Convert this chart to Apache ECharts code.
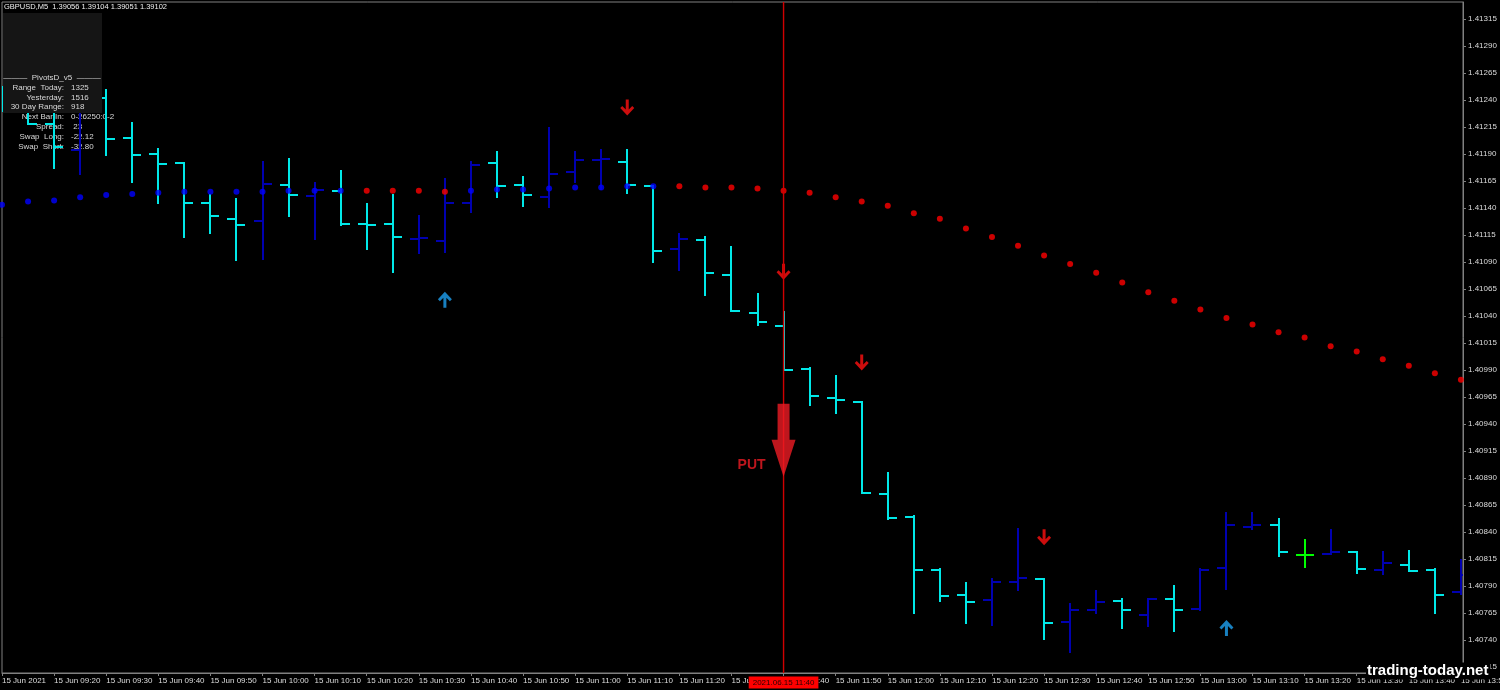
<!DOCTYPE html>
<html><head><meta charset="utf-8">
<script src="https://cdn.jsdelivr.net/npm/echarts@6/dist/echarts.min.js"></script>
<style>html,body{margin:0;padding:0;background:#000;} #c{width:1500px;height:690px;}</style>
</head><body><div id="c"></div>
<script>
// ---------- data ----------
const times = ['09:10','09:15','09:20','09:25','09:30','09:35','09:40','09:45','09:50','09:55',
  '10:00','10:05','10:10','10:15','10:20','10:25','10:30','10:35','10:40','10:45',
  '10:50','10:55','11:00','11:05','11:10','11:15','11:20','11:25','11:30','11:35',
  '11:40','11:45','11:50','11:55','12:00','12:05','12:10','12:15','12:20','12:25',
  '12:30','12:35','12:40','12:45','12:50','12:55','13:00','13:05','13:10','13:15',
  '13:20','13:25','13:30','13:35','13:40','13:45','13:50'];
const opens  = [1.41238,1.41233,1.41218,1.41194,1.41242,1.41205,1.41190,1.41182,1.41145,1.41130,
  1.41128,1.41161,1.41151,1.41156,1.41125,1.41125,1.41111,1.41109,1.41145,1.41182,
  1.41161,1.41150,1.41173,1.41184,1.41183,1.41160,1.41102,1.41110,1.41078,1.41043,
  1.41031,1.40991,1.40964,1.40960,1.40875,1.40854,1.40805,1.40782,1.40777,1.40794,
  1.40796,1.40757,1.40768,1.40776,1.40763,1.40778,1.40769,1.40807,1.40845,1.40846,
  1.40819,1.40820,1.40821,1.40805,1.40809,1.40805,1.40784];
const highs  = [1.41252,1.41235,1.41231,1.41247,1.41249,1.41219,1.41195,1.41182,1.41152,1.41148,
  1.41183,1.41185,1.41163,1.41174,1.41144,1.41152,1.41133,1.41167,1.41183,1.41192,
  1.41169,1.41214,1.41192,1.41194,1.41194,1.41160,1.41116,1.41113,1.41104,1.41060,
  1.41044,1.40992,1.40984,1.40960,1.40895,1.40855,1.40806,1.40793,1.40796,1.40843,
  1.40796,1.40773,1.40785,1.40778,1.40778,1.40790,1.40806,1.40858,1.40858,1.40852,
  1.40833,1.40842,1.40821,1.40821,1.40822,1.40806,1.40814];
const lows   = [1.41230,1.41218,1.41177,1.41171,1.41189,1.41164,1.41145,1.41113,1.41117,1.41092,
  1.41093,1.41133,1.41111,1.41124,1.41102,1.41081,1.41098,1.41099,1.41136,1.41150,
  1.41142,1.41141,1.41164,1.41158,1.41154,1.41090,1.41083,1.41059,1.41045,1.41032,
  1.40990,1.40958,1.40950,1.40876,1.40852,1.40765,1.40776,1.40756,1.40754,1.40786,
  1.40741,1.40729,1.40765,1.40751,1.40753,1.40748,1.40768,1.40787,1.40843,1.40818,
  1.40808,1.40820,1.40802,1.40801,1.40804,1.40765,1.40783];
const closes = [1.41233,1.41218,1.41196,1.41240,1.41204,1.41189,1.41181,1.41145,1.41133,1.41124,
  1.41162,1.41152,1.41157,1.41125,1.41124,1.41113,1.41112,1.41145,1.41180,1.41160,
  1.41152,1.41171,1.41184,1.41185,1.41161,1.41100,1.41111,1.41080,1.41045,1.41034,
  1.40990,1.40966,1.40962,1.40876,1.40853,1.40805,1.40781,1.40775,1.40794,1.40797,
  1.40756,1.40768,1.40775,1.40768,1.40778,1.40768,1.40805,1.40846,1.40846,1.40821,
  1.40819,1.40821,1.40806,1.40811,1.40804,1.40782,1.40800];
const maValues = [1.41143,1.41146,1.41147,1.41150,1.41152,1.41153,1.41154,1.41155,1.41155,1.41155,
  1.41155,1.41156,1.41156,1.41156,1.41156,1.41156,1.41156,1.41155,1.41156,1.41157,
  1.41157,1.41158,1.41159,1.41159,1.41160,1.41160,1.41160,1.41159,1.41159,1.41158,
  1.41156,1.41154,1.41150,1.41146,1.41142,1.41135,1.41130,1.41121,1.41113,1.41105,
  1.41096,1.41088,1.41080,1.41071,1.41062,1.41054,1.41046,1.41038,1.41032,1.41025,
  1.41020,1.41012,1.41007,1.41000,1.40994,1.40987,1.40981];
const maColorKeys = 'BBBBBBBBBBBBBBRRRRBBBBBBBBRRRRRRRRRRRRRRRRRRRRRRRRRRRRRRR'.split('');
const yTicks = [1.40715,1.40740,1.40765,1.40790,1.40815,1.40840,1.40865,1.40890,1.40915,1.40940,
  1.40965,1.40990,1.41015,1.41040,1.41065,1.41090,1.41115,1.41140,1.41165,1.41190,
  1.41215,1.41240,1.41265,1.41290,1.41315];
const xLabelIdx = [0,2,4,6,8,10,12,14,16,18,20,22,24,26,28,30,32,34,36,38,40,42,44,46,48,50,52,54,56];
const firstLabel = '15 Jun 2021';
const dayPrefix = '15 Jun ';
const yMin = 1.407094, yMax = 1.413307;
const downArrowIdx = [24,30,33,40];
const downArrowPrice = [1.41233,1.41081,1.40997,1.40835];
const upArrowIdx = [17,47];
const upArrowPrice = [1.41055,1.40751];
const signalIdx = 30, signalPrice = 1.40925, signalText = 'PUT';
const signalTimeLabel = '2021.06.15 11:40';
const titleText = 'GBPUSD,M5  1.39056 1.39104 1.39051 1.39102';
const panelTitle = '———  PivotsD_v5  ———';
const panelLabels = ['Range  Today:','Yesterday:','30 Day Range:','Next Bar In:','Spread:','Swap  Long:','Swap  Short:'];
const panelValues = ['1325','1516','918','0-26250:0-2',' 23','-22.12','-32.80'];
const watermark = 'trading-today.net';

// ---------- style ----------
const CYAN = '#00e8e8', NAVY = '#0000b0', LIME = '#00ff00';
const FONT = 'Liberation Sans';
const chart = echarts.init(document.getElementById('c'), null, {renderer:'canvas'});

const ohlc = times.map((t,i)=>[i, opens[i], highs[i], lows[i], closes[i]]);
const maData = maValues.map((v,i)=>({value:[i,v], itemStyle:{color: maColorKeys[i]==='B' ? '#0000ff' : '#ff0000'}}));
const downData = downArrowIdx.map((d,k)=>[d, downArrowPrice[k]]);
const upData = upArrowIdx.map((d,k)=>[d, upArrowPrice[k]]);

const DOWN_PATH = 'path://M5.5,0 L8.5,0 L8.5,10 L12,6.5 L14,8.5 L7,16 L0,8.5 L2,6.5 L5.5,10 Z';
const UP_PATH = 'path://M5.5,16 L8.5,16 L8.5,6 L12,9.5 L14,7.5 L7,0 L0,7.5 L2,9.5 L5.5,6 Z';
const BIG_DOWN = 'path://M6,0 L18,0 L18,36 L24,36 L12,73 L0,36 L6,36 Z';

const graphics = [
  {type:'text', left:4, top:3, z:20, style:{text:titleText, fill:'#f0f0f0', font:'7.5px '+FONT}},
  {type:'rect', shape:{x:3,y:13,width:99,height:100}, style:{fill:'#151515'}, z:15},
  {type:'text', x:52, y:78, z:20, style:{text:panelTitle, fill:'#d8d8d8', font:'8px '+FONT, align:'center', verticalAlign:'middle'}}
];
panelLabels.forEach((lab,k)=>{
  const yy = 87.5 + k*9.8;
  const zz = yy < 113 ? 20 : 1;
  graphics.push({type:'text', x:64, y:yy, z:zz, style:{text:lab, fill:'#d8d8d8', font:'8px '+FONT, align:'right', verticalAlign:'middle'}});
  graphics.push({type:'text', x:71, y:yy, z:zz, style:{text:panelValues[k], fill:'#d8d8d8', font:'8px '+FONT, align:'left', verticalAlign:'middle'}});
});
graphics.push({type:'text', x:1366, y:671, z:30, style:{text:watermark, fill:'#ffffff', font:'bold 15px '+FONT, align:'left', verticalAlign:'middle', backgroundColor:'#000', padding:[1,2,1,1]}});

chart.setOption({
  animation:false,
  backgroundColor:'#000',
  grid:{left:2, top:2, right:37, bottom:17, show:true, borderColor:'#808080', borderWidth:1, backgroundColor:'transparent', outerBoundsMode:'none'},
  xAxis:{type:'value', min:0, max:56.08,
    axisLine:{show:true, onZero:false, lineStyle:{color:'#808080', width:1}},
    axisTick:{show:true, inside:false, customValues:xLabelIdx, length:3, lineStyle:{color:'#808080'}},
    axisLabel:{customValues:xLabelIdx, formatter:v=> v===0 ? firstLabel : dayPrefix+times[v], color:'#dcdcdc', fontSize:8, fontFamily:FONT, align:'left', margin:4, hideOverlap:false},
    splitLine:{show:false}
  },
  yAxis:{type:'value', position:'right', min:yMin, max:yMax,
    axisLine:{show:true, onZero:false, lineStyle:{color:'#808080', width:1}},
    axisTick:{show:true, inside:false, customValues:yTicks, length:3, lineStyle:{color:'#808080'}},
    axisLabel:{customValues:yTicks, formatter:v=>v.toFixed(5), color:'#dcdcdc', fontSize:8, fontFamily:FONT, margin:5},
    splitLine:{show:false}
  },
  graphic: graphics,
  series:[
    {type:'custom', data:ohlc, encode:{x:0, y:[1,2,3,4]}, clip:true, z:3,
      renderItem:function(params, api){
        const i=api.value(0), o=api.value(1), h=api.value(2), l=api.value(3), c=api.value(4);
        const top=api.coord([i,h]), bot=api.coord([i,l]), po=api.coord([i,o]), pc=api.coord([i,c]);
        const col = c>o ? NAVY : (c<o ? CYAN : LIME);
        const x = Math.round(top[0]);
        const tick = 9;
        const st = {stroke:col, lineWidth:2, fill:null};
        return {type:'group', children:[
          {type:'line', shape:{x1:x, y1:Math.round(top[1])-1, x2:x, y2:Math.round(bot[1])+1}, style:st},
          {type:'line', shape:{x1:x-tick, y1:Math.round(po[1]), x2:x, y2:Math.round(po[1])}, style:st},
          {type:'line', shape:{x1:x, y1:Math.round(pc[1]), x2:x+tick, y2:Math.round(pc[1])}, style:st}
        ]};
      }
    },
    {type:'line', data:[[signalIdx, yMin],[signalIdx, yMax]], showSymbol:false, symbol:'none', silent:true, clip:false, z:7,
      lineStyle:{color:'#d00000', width:1.4, type:'solid'},
      markPoint:{silent:true, symbol:'rect', symbolSize:[1,1], itemStyle:{color:'transparent'},
        data:[{coord:[signalIdx, yMin]}],
        label:{show:true, formatter:()=>signalTimeLabel, position:'bottom', distance:3, backgroundColor:'#ff0000', color:'#2a0000', fontSize:8, fontFamily:FONT, padding:[2,4,2,4]}}
    },
    {type:'scatter', data:maData, symbol:'circle', symbolSize:6, z:4, silent:true},
    {type:'scatter', data:downData, symbol:DOWN_PATH, symbolSize:[14,16], symbolKeepAspect:false, itemStyle:{color:'#ff1010'}, z:5, silent:true},
    {type:'scatter', data:upData, symbol:UP_PATH, symbolSize:[14,16], symbolKeepAspect:false, itemStyle:{color:'#1ea0f0'}, z:5, silent:true},
    {type:'scatter', data:[[signalIdx, signalPrice]], symbol:BIG_DOWN, symbolSize:[24,73], symbolKeepAspect:false,
      itemStyle:{color:'#ed1c24'}, z:8, silent:true,
      label:{show:true, formatter:()=>signalText, position:'inside', offset:[-32,25], color:'#ed1c24', fontSize:14, fontWeight:'bold', fontFamily:FONT}}
  ]
});
</script></body></html>
